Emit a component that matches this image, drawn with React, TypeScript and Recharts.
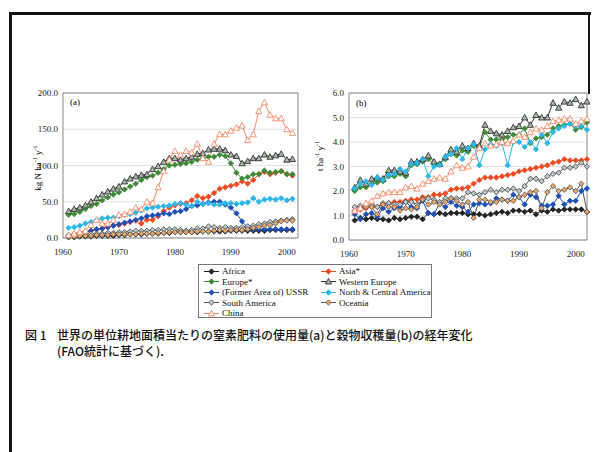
import React from 'react';
import { LineChart, Line, XAxis, YAxis, CartesianGrid, ReferenceLine } from 'recharts';

// years
const yearsA = [1961, 1962, 1963, 1964, 1965, 1966, 1967, 1968, 1969, 1970, 1971, 1972, 1973, 1974, 1975, 1976, 1977, 1978, 1979, 1980, 1981, 1982, 1983, 1984, 1985, 1986, 1987, 1988, 1989, 1990, 1991, 1992, 1993, 1994, 1995, 1996, 1997, 1998, 1999, 2000, 2001];
const yearsB = [...yearsA, 2002];
const xTicks = [1960, 1970, 1980, 1990, 2000];
const yTicksA = [0, 50, 100, 150, 200];
const yTicksB = [0, 1, 2, 3, 4, 5, 6];

// (a) nitrogen fertilizer, kg N / ha / y
const africaN = [1, 1, 2, 2, 2, 3, 3, 3, 3, 4, 4, 5, 5, 5, 6, 6, 6, 7, 7, 8, 8, 8, 8, 8, 9, 9, 9, 9, 9, 10, 10, 10, 10, 10, 10, 10, 11, 11, 11, 11, 11];
const asiaN = [3, 5, 7, 8, 10, 12, 13, 15, 17, 18, 20, 22, 24, 20, 25, 25, 30, 37, 42, 45, 47, 48, 52, 58, 55, 57, 62, 68, 70, 72, 74, 78, 75, 80, 88, 91, 88, 90, 92, 88, 86];
const europeN = [32, 33, 36, 40, 44, 47, 52, 56, 60, 63, 67, 71, 75, 80, 84, 86, 90, 95, 100, 101, 102, 103, 105, 108, 110, 112, 112, 115, 113, 103, 90, 82, 84, 88, 88, 93, 90, 91, 92, 88, 88];
const westEuN = [37, 40, 42, 45, 50, 55, 60, 64, 68, 71, 78, 82, 85, 87, 88, 95, 99, 105, 110, 110, 108, 110, 112, 116, 117, 122, 123, 123, 121, 115, 113, 103, 106, 110, 110, 115, 112, 114, 116, 108, 109];
const ussrN = [2, 3, 5, 8, 10, 12, 13, 15, 17, 19, 21, 23, 25, 27, 30, 31, 32, 34, 33, 36, 37, 40, 44, 45, 47, 49, 50, 50, 46, 42, 34, 23, 14, 12, 12, 12, 12, 12, 12, 12, 12];
const ncaN = [14, 15, 17, 20, 22, 25, 27, 28, 28, 30, 32, 33, 35, 38, 41, 42, 43, 44, 45, 47, 48, 46, 44, 50, 47, 48, 46, 46, 48, 48, 47, 48, 49, 55, 50, 53, 54, 53, 55, 52, 54];
const southAmN = [4, 5, 5, 5, 6, 6, 6, 7, 7, 8, 8, 9, 10, 10, 10, 11, 11, 12, 12, 12, 11, 10, 11, 13, 13, 16, 15, 14, 15, 14, 14, 15, 16, 17, 19, 20, 22, 23, 24, 25, 26];
const oceaniaN = [2, 2, 3, 3, 3, 4, 4, 4, 5, 5, 5, 5, 5, 6, 6, 6, 7, 7, 8, 8, 8, 8, 8, 9, 9, 9, 10, 11, 10, 11, 11, 11, 12, 14, 15, 17, 18, 20, 23, 24, 24];
const chinaN = [4, 6, 8, 10, 18, 25, 20, 20, 25, 32, 33, 36, 42, 40, 50, 48, 70, 92, 108, 120, 115, 120, 118, 130, 110, 105, 130, 143, 143, 148, 152, 155, 135, 143, 175, 187, 170, 165, 165, 150, 145];

// (b) cereal yield, t / ha / y
const africaY = [0.8, 0.9, 0.85, 0.9, 0.85, 0.85, 0.8, 0.9, 0.85, 0.9, 0.95, 0.95, 0.85, 1.1, 1.05, 1.1, 1.05, 1.1, 1.1, 1.1, 1.05, 1.05, 1.05, 1.0, 1.05, 1.1, 1.15, 1.1, 1.2, 1.2, 1.15, 1.2, 1.05, 1.2, 1.15, 1.25, 1.2, 1.25, 1.25, 1.25, 1.25, 1.15];
const asiaY = [1.2, 1.25, 1.3, 1.35, 1.35, 1.45, 1.5, 1.55, 1.55, 1.6, 1.65, 1.65, 1.75, 1.75, 1.85, 1.85, 1.9, 2.05, 2.1, 2.1, 2.15, 2.3, 2.45, 2.55, 2.55, 2.55, 2.6, 2.65, 2.7, 2.8, 2.85, 2.9, 2.95, 3.0, 3.05, 3.15, 3.2, 3.3, 3.25, 3.25, 3.25, 3.3];
const europeY = [2.0, 2.15, 2.15, 2.3, 2.35, 2.4, 2.6, 2.6, 2.7, 2.6, 3.05, 3.1, 3.2, 3.3, 3.1, 3.1, 3.3, 3.5, 3.45, 3.65, 3.6, 3.85, 3.8, 4.4, 4.1, 4.1, 4.1, 4.2, 4.3, 4.3, 4.55, 3.95, 4.15, 4.2, 4.3, 4.55, 4.65, 4.7, 4.75, 4.5, 4.6, 4.8];
const westEuY = [2.15, 2.45, 2.3, 2.5, 2.55, 2.5, 2.85, 2.85, 2.8, 2.75, 3.2, 3.2, 3.3, 3.45, 3.2, 3.1, 3.4, 3.7, 3.6, 3.85, 3.75, 3.95, 3.85, 4.7, 4.45, 4.35, 4.3, 4.45, 4.6, 4.65, 5.0, 4.7, 5.1, 5.0, 5.0, 5.6, 5.4, 5.65, 5.6, 5.75, 5.5, 5.65];
const ussrY = [1.05, 0.85, 1.05, 1.1, 0.95, 1.3, 1.15, 1.3, 1.35, 1.55, 1.35, 1.3, 1.6, 1.1, 1.05, 1.5, 1.35, 1.55, 1.4, 1.35, 1.15, 1.45, 1.5, 1.45, 1.5, 1.7, 1.65, 1.6, 1.85, 1.75, 1.45, 1.85, 1.75, 1.4, 1.4, 1.45, 1.8, 1.45, 1.6, 1.6, 2.0, 2.1];
const ncaY = [2.1, 2.3, 2.4, 2.25, 2.55, 2.45, 2.65, 2.7, 2.9, 2.8, 3.1, 3.15, 3.3, 2.6, 3.0, 3.05, 3.4, 3.5, 3.75, 3.3, 3.75, 3.9, 3.05, 3.7, 3.9, 3.85, 3.95, 3.05, 4.0, 4.0, 3.8, 4.0, 3.7, 4.3, 3.95, 4.4, 4.55, 4.65, 4.75, 4.65, 4.65, 4.5];
const southAmY = [1.35, 1.4, 1.4, 1.45, 1.35, 1.5, 1.5, 1.45, 1.45, 1.55, 1.55, 1.45, 1.65, 1.7, 1.65, 1.55, 1.7, 1.7, 1.7, 1.7, 1.95, 1.9, 1.85, 1.95, 2.05, 1.95, 2.05, 2.05, 2.1, 2.0, 2.2, 2.5, 2.5, 2.4, 2.6, 2.7, 2.75, 2.95, 2.95, 3.0, 3.15, 3.0];
const oceaniaY = [1.15, 1.3, 1.35, 1.35, 1.05, 1.45, 1.35, 1.35, 1.2, 1.3, 1.25, 1.35, 1.65, 1.45, 1.55, 1.45, 1.55, 1.7, 1.6, 1.45, 1.55, 0.9, 1.65, 1.65, 1.55, 1.55, 1.65, 1.6, 1.6, 1.75, 1.85, 1.95, 2.0, 1.3, 1.95, 2.2, 2.0, 2.05, 2.15, 2.0, 2.3, 1.15];
const chinaY = [1.2, 1.3, 1.5, 1.6, 1.8, 1.9, 1.95, 1.95, 1.95, 2.15, 2.2, 2.1, 2.3, 2.4, 2.5, 2.55, 2.5, 2.8, 3.05, 2.95, 3.0, 3.4, 3.75, 3.95, 3.85, 3.9, 4.0, 3.95, 4.05, 4.3, 4.2, 4.4, 4.55, 4.5, 4.65, 4.85, 4.9, 4.95, 4.95, 4.75, 4.85, 4.95];

const dataA = yearsA.map((year, i) => ({
  year,
  africa: africaN[i], asia: asiaN[i], europe: europeN[i], westEu: westEuN[i], ussr: ussrN[i],
  nca: ncaN[i], southAm: southAmN[i], oceania: oceaniaN[i], china: chinaN[i],
}));
const dataB = yearsB.map((year, i) => ({
  year,
  africa: africaY[i], asia: asiaY[i], europe: europeY[i], westEu: westEuY[i], ussr: ussrY[i],
  nca: ncaY[i], southAm: southAmY[i], oceania: oceaniaY[i], china: chinaY[i],
}));

type Shape = 'diamond' | 'triangle';
interface SeriesDef { key: string; name: string; line: string; shape: Shape; fill: string; stroke: string }

const series: SeriesDef[] = [
  { key: 'africa', name: 'Africa', line: '#222222', shape: 'diamond', fill: '#222222', stroke: '#222222' },
  { key: 'asia', name: 'Asia*', line: '#f04a23', shape: 'diamond', fill: '#f04a23', stroke: '#f04a23' },
  { key: 'europe', name: 'Europe*', line: '#3d8b37', shape: 'diamond', fill: '#3d8b37', stroke: '#3d8b37' },
  { key: 'westEu', name: 'Western Europe', line: '#333333', shape: 'triangle', fill: '#a8b8a8', stroke: '#333333' },
  { key: 'ussr', name: '(Former Area of) USSR', line: '#1f50b5', shape: 'diamond', fill: '#1f50b5', stroke: '#1f50b5' },
  { key: 'nca', name: 'North & Central America', line: '#2bb7ea', shape: 'diamond', fill: '#2bb7ea', stroke: '#2bb7ea' },
  { key: 'southAm', name: 'South America', line: '#555555', shape: 'diamond', fill: '#b9c9cc', stroke: '#444444' },
  { key: 'oceania', name: 'Oceania', line: '#555555', shape: 'diamond', fill: '#e8a86a', stroke: '#555555' },
  { key: 'china', name: 'China', line: '#f58a66', shape: 'triangle', fill: '#ffffff', stroke: '#f58a66' },
];
const byKey = (k: string) => series.find((s) => s.key === k)!;
const legendRows = [['africa', 'asia'], ['europe', 'westEu'], ['ussr', 'nca'], ['southAm', 'oceania'], ['china']];

const serif = '"Liberation Serif", "Times New Roman", serif';
const tickStyle = { fontSize: 9, fontFamily: serif, fill: '#222' };

function marker(shape: Shape, cx: number, cy: number, fill: string, stroke: string, key?: any) {
  if (shape === 'diamond') {
    const r = 2.7;
    return <path key={key} d={`M${cx},${cy - r}L${cx + r},${cy}L${cx},${cy + r}L${cx - r},${cy}Z`} fill={fill} stroke={stroke} strokeWidth={0.8} />;
  }
  const r = 3.1;
  return <path key={key} d={`M${cx},${cy - r}L${cx + r},${cy + r * 0.8}L${cx - r},${cy + r * 0.8}Z`} fill={fill} stroke={stroke} strokeWidth={0.9} />;
}

const makeDot = (s: SeriesDef) => (p: any) => {
  if (p.cx == null || p.cy == null) return <g key={p.index} />;
  return marker(s.shape, p.cx, p.cy, s.fill, s.stroke, p.index);
};

function Panel({ data, width, height, yWidth, yTicks, yMax, right, fmt, tickMargin }: any) {
  return (
    <LineChart width={width} height={height} data={data} margin={{ top: 8, right, left: 0, bottom: 0 }}>
      <CartesianGrid vertical={false} stroke="#e2e2e2" />
      <XAxis dataKey="year" type="number" domain={[1960, 2002]} ticks={xTicks} tick={tickStyle}
        tickLine={false} tickSize={6} tickMargin={tickMargin} height={22} axisLine={{ stroke: '#888' }} />
      <YAxis type="number" domain={[0, yMax]} ticks={yTicks} tick={tickStyle} tickFormatter={fmt}
        tickLine={false} tickSize={3} tickMargin={2} width={yWidth} axisLine={{ stroke: '#888' }} />
      <ReferenceLine y={yMax} stroke="#888" />
      <ReferenceLine x={2002} stroke="#888" />
      {series.map((s) => (
        <Line key={s.key} dataKey={s.key} name={s.name} stroke={s.line} strokeWidth={1}
          dot={makeDot(s)} activeDot={false} isAnimationActive={false} />
      ))}
    </LineChart>
  );
}

function LegendItem({ k }: { k: string }) {
  const s = byKey(k);
  return (
    <div style={{ display: 'flex', alignItems: 'center', height: 10.5, whiteSpace: 'nowrap' }}>
      <svg width={17} height={9} style={{ marginRight: 2, flex: 'none' }}>
        <line x1={1} y1={4.5} x2={16} y2={4.5} stroke={s.line} strokeWidth={1} />
        {marker(s.shape, 8.5, 4.5, s.fill, s.stroke)}
      </svg>
      <span>{s.name}</span>
    </div>
  );
}

export default function App() {
  return (
    <div style={{ position: 'absolute', left: 0, top: 0, width: 593, height: 452, overflow: 'hidden', background: '#fff' }}>
      {/* page frame */}
      <div style={{ position: 'absolute', left: 9, top: 12, width: 3, height: 440, background: '#111' }} />
      <div style={{ position: 'absolute', left: 9, top: 12, width: 582, height: 3, background: '#111' }} />
      <div style={{ position: 'absolute', left: 588, top: 12, width: 2, height: 82, background: '#111' }} />

      <div style={{ position: 'absolute', left: 20, top: 85 }}>
        <Panel data={dataA} width={290} height={175} yWidth={43} yTicks={yTicksA} yMax={200} right={12}
          fmt={(v: number) => v.toFixed(1)} tickMargin={5} />
      </div>
      <div style={{ position: 'absolute', left: 300, top: 85 }}>
        <Panel data={dataB} width={290} height={177} yWidth={49} yTicks={yTicksB} yMax={6} right={3}
          fmt={(v: number) => v.toFixed(1)} tickMargin={5} />
      </div>

      <div style={{ position: 'absolute', left: 70, top: 97, fontFamily: serif, fontSize: 9 }}>(a)</div>
      <div style={{ position: 'absolute', left: 356, top: 98, fontFamily: serif, fontSize: 9 }}>(b)</div>

      <div style={{ position: 'absolute', left: 37, top: 168, transform: 'translate(-50%, -50%) rotate(-90deg)', fontFamily: serif, fontSize: 9, whiteSpace: 'nowrap' }}>
        kg N ha<sup style={{ fontSize: 6 }}>-1</sup> y<sup style={{ fontSize: 6 }}>-1</sup>
      </div>
      <div style={{ position: 'absolute', left: 319, top: 156, transform: 'translate(-50%, -50%) rotate(-90deg)', fontFamily: serif, fontSize: 9, whiteSpace: 'nowrap' }}>
        t ha<sup style={{ fontSize: 6 }}>-1</sup> y<sup style={{ fontSize: 6 }}>-1</sup>
      </div>

      <div style={{ position: 'absolute', left: 198, top: 264, width: 234, height: 54, border: '1px solid #777', fontFamily: serif, fontSize: 9, color: '#111', paddingTop: 1, boxSizing: 'border-box' }}>
        {legendRows.map((row, i) => (
          <div key={i} style={{ display: 'flex' }}>
            <div style={{ width: 117, paddingLeft: 4, flex: 'none' }}><LegendItem k={row[0]} /></div>
            {row[1] && <div style={{ flex: 'none' }}><LegendItem k={row[1]} /></div>}
          </div>
        ))}
      </div>

      <div style={{ position: 'absolute', left: 25, top: 327, fontFamily: '"Noto Sans CJK JP", sans-serif', fontSize: 12, fontWeight: 500, lineHeight: '16px', color: '#111', whiteSpace: 'nowrap' }}>
        <div><span style={{ display: 'inline-block', width: 32 }}>図 1</span>世界の単位耕地面積当たりの窒素肥料の使用量(a)と穀物収穫量(b)の経年変化</div>
        <div style={{ paddingLeft: 32 }}>(FAO統計に基づく).</div>
      </div>
    </div>
  );
}
